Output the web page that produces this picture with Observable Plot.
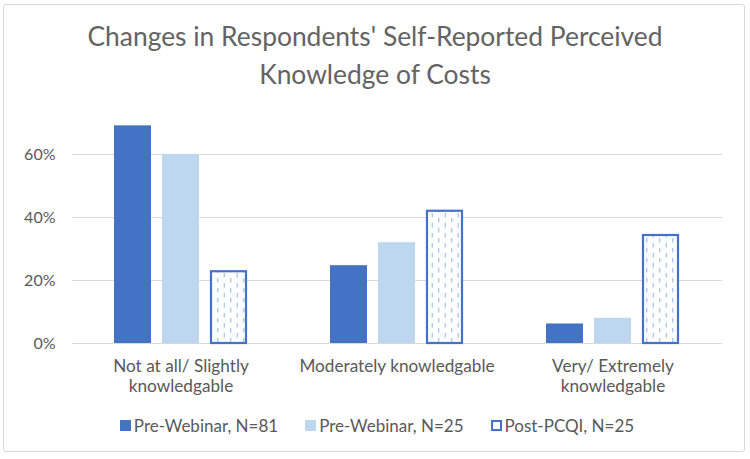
<!DOCTYPE html>
<html>
<head>
<meta charset="utf-8">
<script src="https://cdn.jsdelivr.net/npm/d3@7"></script>
<script src="https://cdn.jsdelivr.net/npm/@observablehq/plot@0.6"></script>
<style>
  html, body { margin: 0; padding: 0; background: #fff; }
  #wrap { position: relative; width: 750px; height: 459px; overflow: hidden; font-family: Lato, "Open Sans", sans-serif; color: #595959; }
  #frame { position: absolute; left: 3px; top: 4px; width: 742px; height: 448px; border: 1px solid #D9D9D9; border-radius: 3px; box-sizing: border-box; }
  #title { position: absolute; left: 0; top: 17px; width: 750px; text-align: center; font-size: 26.4px; line-height: 38px; color: #636363; }
  #chart { position: absolute; left: 0; top: 93px; }
  #legend { position: absolute; left: 2px; top: 403px; width: 750px; height: 44px; display: flex; justify-content: center; align-items: center; font-size: 17px; color: #595959; }
  .item { display: flex; align-items: center; margin: 0 13.5px; }
  .sw { width: 11px; height: 11px; margin-right: 3px; box-sizing: border-box; }
</style>
</head>
<body>
<div id="wrap">
  <div id="frame"></div>
  <div id="title">Changes in Respondents' Self-Reported Perceived<br>Knowledge of Costs</div>
  <div id="chart"></div>
  <div id="legend"></div>
</div>
<script>
const categories = ["Not at all/ Slightly knowledgable", "Moderately knowledgable", "Very/ Extremely knowledgable"];
const labelLine1 = ["Not at all/ Slightly", "Moderately knowledgable", "Very/ Extremely"];
const labelLine2 = ["knowledgable", "", "knowledgable"];
const seriesNames = ["Pre-Webinar, N=81", "Pre-Webinar, N=25", "Post-PCQI, N=25"];
const preWebinar81 = [0.691, 0.247, 0.062];
const preWebinar25 = [0.60, 0.32, 0.08];
const postPCQI25 = [0.231, 0.423, 0.346];
const yTicks = [0, 0.2, 0.4, 0.6];

const darkBlue = "#4472C4";
const lightBlue = "#BDD7EE";
const gridGray = "#D9D9D9";
const textGray = "#595959";

const rows = (vals) => categories.map((c, i) => ({cat: c, v: vals[i]}));
const labelRows = categories.map((c, i) => ({cat: c, l1: labelLine1[i], l2: labelLine2[i]}));

const barW = 38, gap = 10, groupW = 3 * barW + 2 * gap;

const plot = Plot.plot({
  width: 750,
  height: 310,
  marginLeft: 72,
  marginRight: 28,
  marginTop: 29.5,
  marginBottom: 60,
  style: {fontFamily: "Lato, 'Open Sans', sans-serif", fontSize: "16px", color: textGray, background: "transparent"},
  x: {domain: categories, paddingInner: 0.382, paddingOuter: 0.191, axis: null},
  y: {domain: [0, 0.7], ticks: yTicks, tickFormat: ".0%", tickSize: 0, tickPadding: 17, label: null},
  marks: [
    Plot.ruleY(yTicks, {stroke: gridGray, strokeWidth: 1}),
    Plot.barY(rows(preWebinar81), {x: "cat", y: "v", fill: darkBlue, insetLeft: 0, insetRight: groupW - barW}),
    Plot.barY(rows(preWebinar25), {x: "cat", y: "v", fill: lightBlue, insetLeft: barW + gap, insetRight: barW + gap}),
    Plot.barY(rows(postPCQI25), {x: "cat", y: "v", fill: "url(#dashVert)", stroke: darkBlue, strokeWidth: 2.2, insetLeft: groupW - barW + 1, insetRight: 1, insetTop: 1}),
    Plot.text(labelRows, {x: "cat", text: "l1", frameAnchor: "bottom", dy: 28, fill: textGray, fontSize: 17.2}),
    Plot.text(labelRows, {x: "cat", text: "l2", frameAnchor: "bottom", dy: 48, fill: textGray, fontSize: 17.2})
  ]
});

d3.select(plot).insert("defs", ":first-child").html(
  `<pattern id="dashVert" width="13" height="10" patternUnits="userSpaceOnUse">
     <rect width="13" height="10" fill="#ffffff"/>
     <line x1="3.25" y1="0" x2="3.25" y2="4.5" stroke="#9DC3E6" stroke-width="1.2"/>
     <line x1="9.75" y1="5" x2="9.75" y2="9.5" stroke="#9DC3E6" stroke-width="1.2"/>
   </pattern>`
);
document.getElementById("chart").appendChild(plot);

const swatchStyles = [
  `background:${darkBlue};`,
  `background:${lightBlue};`,
  `background:#fff;border:2px solid ${darkBlue};`
];
const legend = d3.select("#legend");
seriesNames.forEach((name, i) => {
  const it = legend.append("div").attr("class", "item");
  it.append("div").attr("class", "sw").attr("style", swatchStyles[i]);
  it.append("span").text(name);
});
</script>
</body>
</html>
